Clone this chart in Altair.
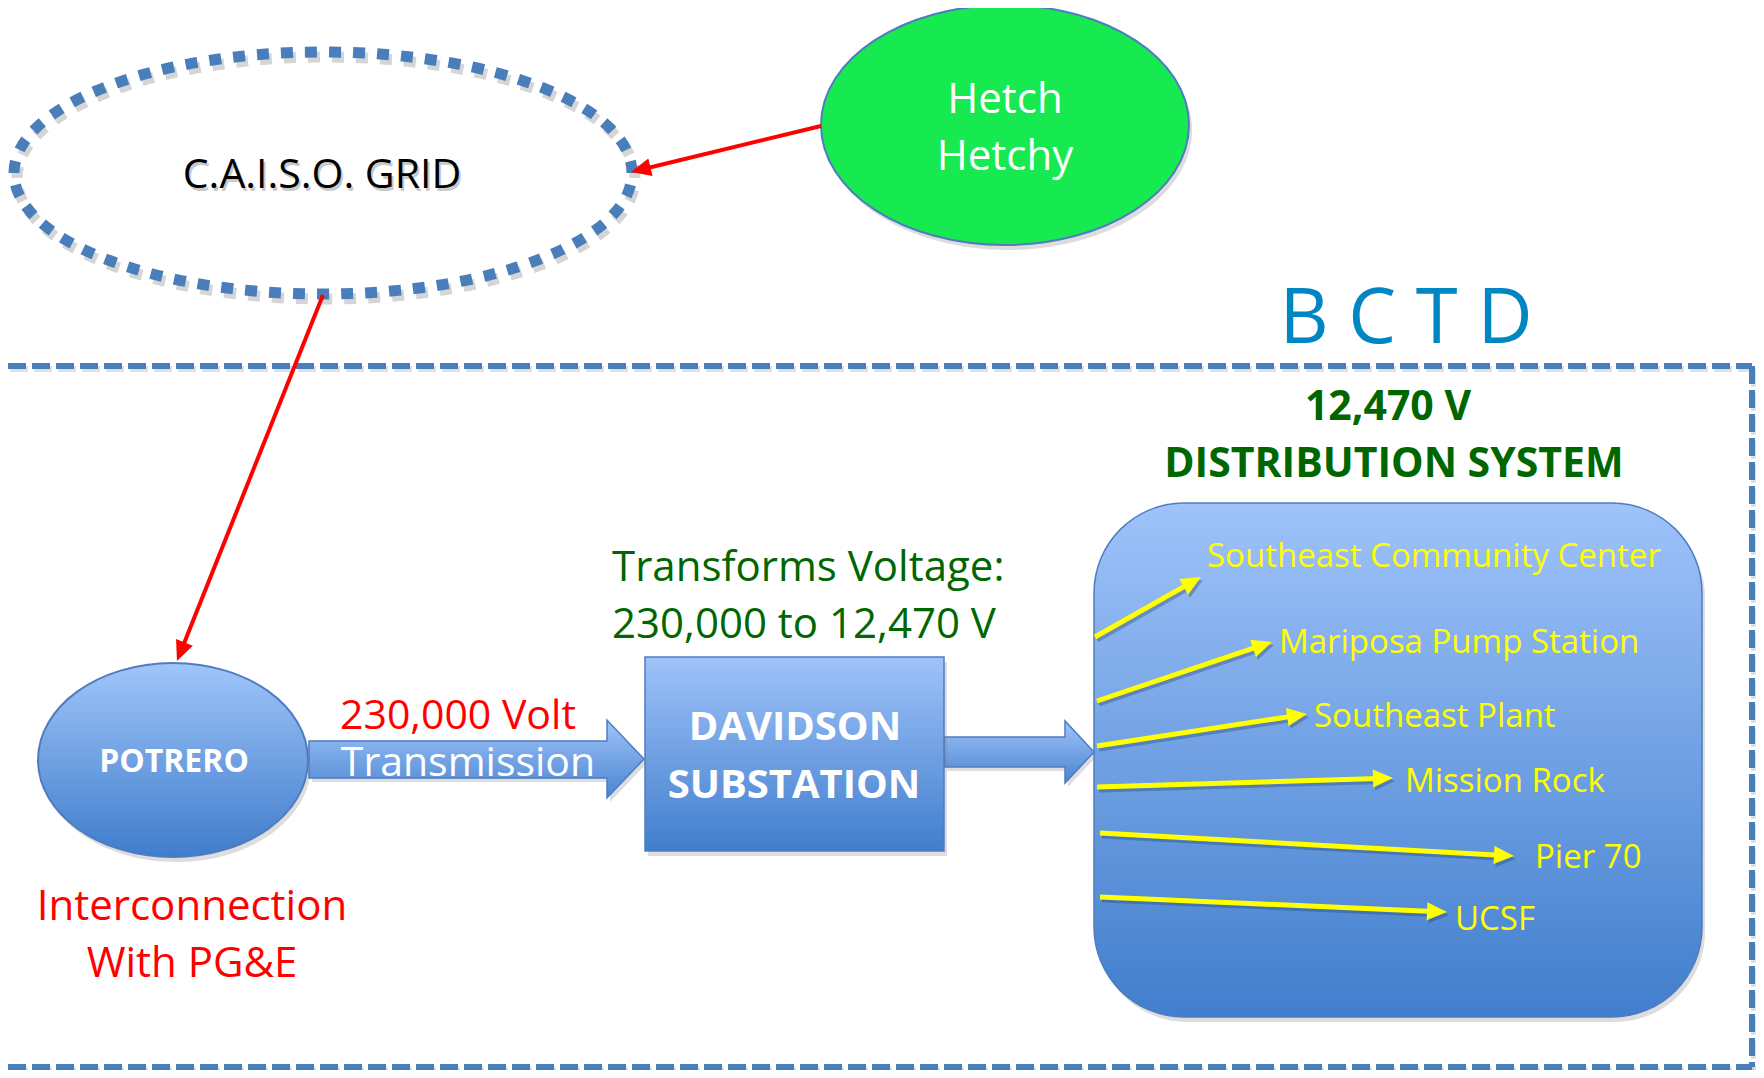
import math
import altair as alt
import pandas as pd

# ---------------- canvas (page pixels) ----------------
W, H = 1748, 1062
PX, PY = 8, 8

# ---------------- data ----------------
ellipse_names = ["C.A.I.S.O. GRID", "Hetch Hetchy", "POTRERO"]
ellipse_cx = [323, 1005, 173]
ellipse_cy = [173, 125, 760]
ellipse_rx = [309, 184, 135]
ellipse_ry = [121, 120, 97]

red_from_x = [821, 323]
red_from_y = [126, 295]
red_to_x = [631, 177]
red_to_y = [172, 661]

feeder_names = ["Southeast Community Center", "Mariposa Pump Station", "Southeast Plant",
                "Mission Rock", "Pier 70", "UCSF"]
feeder_x0 = [1095, 1097, 1097, 1097, 1100, 1100]
feeder_y0 = [637, 701, 746, 787, 833, 897]
feeder_x1 = [1201, 1272, 1307, 1393, 1514, 1447]
feeder_y1 = [577, 642, 714, 778, 856, 912]
feeder_label_x = [1207, 1279, 1314, 1405, 1535, 1455]
feeder_label_y = [567, 653, 727, 792, 868, 930]

arrow1_x = [309, 607, 607, 644, 607, 607, 309]
arrow1_y = [741, 741, 720, 759, 798, 778, 778]
arrow2_x = [944, 1065, 1065, 1094, 1065, 1065, 944]
arrow2_y = [737, 737, 721, 752, 783, 767, 767]

box_names = ["DAVIDSON SUBSTATION", "DISTRIBUTION SYSTEM"]
box_x = [645, 1094]
box_x2 = [944, 1702]
box_y = [657, 503]
box_y2 = [851, 1017]
box_radius = [0, 90]

frame_x = [8, 1752, 8]
frame_x2 = [1752, 1752, 1752]
frame_y = [366, 366, 1067]
frame_y2 = [366, 1067, 1067]

text_labels = ["C.A.I.S.O. GRID", "Hetch", "Hetchy", "B C T D", "230,000 Volt", "Transmission",
               "Interconnection", "With PG&E"]
text_x = [322, 1005, 1005, 1406, 458, 468, 192, 192]
text_y = [188, 113, 170, 343, 729, 776, 920, 977]
text_size = [41, 42, 42, 76, 41, 41, 42, 42]
text_color = ["#000000", "#FFFFFF", "#FFFFFF", "#0086C3", "#FF0000", "#FFFFFF", "#FF0000", "#FF0000"]

left_labels = ["Transforms Voltage:", "230,000 to 12,470 V"]
left_x = [612, 612]
left_y = [581, 638]

bold_labels = ["POTRERO", "DAVIDSON", "SUBSTATION", "12,470 V", "DISTRIBUTION SYSTEM"]
bold_x = [174, 795, 794, 1388, 1394]
bold_y = [772, 740, 798, 420, 477]
bold_size = [32, 40, 40, 41, 41]
bold_color = ["#FFFFFF", "#FFFFFF", "#FFFFFF", "#006600", "#006600"]

FONT = "Open Sans"
BLUE_LINE = "#4A7EBB"
SHAPE_STROKE = "#4F7CC0"

# ---------------- helpers ----------------
xs = alt.Scale(domain=[PX, PX + W], nice=False, zero=False)
ys = alt.Scale(domain=[PY, PY + H], nice=False, zero=False, reverse=True)


def X(f="x"):
    return alt.X(f"{f}:Q", scale=xs, axis=None)


def Y(f="y"):
    return alt.Y(f"{f}:Q", scale=ys, axis=None)


def vgrad(top, bottom):
    return alt.LinearGradient(
        gradient="linear",
        stops=[alt.GradientStop(offset=0, color=top), alt.GradientStop(offset=1, color=bottom)],
        x1=0, x2=0, y1=0, y2=1)


def ellipse_path(rx, ry):
    e = ry / rx
    c = 0.5523
    return (f"M -1 0 C -1 {-c*e:.4f} {-c:.4f} {-e:.4f} 0 {-e:.4f} "
            f"C {c:.4f} {-e:.4f} 1 {-c*e:.4f} 1 0 "
            f"C 1 {c*e:.4f} {c:.4f} {e:.4f} 0 {e:.4f} "
            f"C {-c:.4f} {e:.4f} -1 {c*e:.4f} -1 0 Z")


def poly_path(px, py):
    cx = (min(px) + max(px)) / 2
    cy = (min(py) + max(py)) / 2
    s = (max(px) - min(px)) / 2
    parts = []
    for i, (a, b) in enumerate(zip(px, py)):
        parts.append(f"{'M' if i == 0 else 'L'} {(a - cx) / s:.4f} {(b - cy) / s:.4f}")
    return " ".join(parts) + " Z", cx, cy, (2 * s) ** 2


def ellipse_layer(i, dx=0, dy=0, **kw):
    df = pd.DataFrame({"x": [ellipse_cx[i] + dx], "y": [ellipse_cy[i] + dy]})
    return alt.Chart(df).mark_point(
        shape=ellipse_path(ellipse_rx[i], ellipse_ry[i]),
        size=(2 * ellipse_rx[i]) ** 2, **kw).encode(x=X(), y=Y())


def poly_layer(px, py, dx=0, dy=0, **kw):
    path, cx, cy, size = poly_path(px, py)
    df = pd.DataFrame({"x": [cx + dx], "y": [cy + dy]})
    return alt.Chart(df).mark_point(shape=path, size=size, **kw).encode(x=X(), y=Y())


HEAD = "M 0 0 L 0.45 1 L -0.45 1 Z"


def arrow_layers(x0, y0, x1, y1, color, width, head_len, shadow=False):
    rows = []
    for a, b, c, d in zip(x0, y0, x1, y1):
        dx, dy = c - a, d - b
        L = math.hypot(dx, dy)
        ux, uy = dx / L, dy / L
        ang = math.degrees(math.atan2(ux, -uy)) % 360
        rows.append({"x": a, "y": b, "x2": c - ux * head_len * 0.7, "y2": d - uy * head_len * 0.7,
                     "tx": c, "ty": d, "ang": ang})
    df = pd.DataFrame(rows)
    out = []
    if shadow:
        sdf = df.copy()
        for k in ["x", "x2", "tx"]:
            sdf[k] = sdf[k] + 2
        for k in ["y", "y2", "ty"]:
            sdf[k] = sdf[k] + 3
        out.append(alt.Chart(sdf).mark_rule(color="#1F3F70", opacity=0.35, strokeWidth=width,
                                            strokeCap="butt").encode(
            x=X(), y=Y(), x2=alt.X2("x2:Q"), y2=alt.Y2("y2:Q")))
        out.append(alt.Chart(sdf).mark_point(shape=HEAD, size=(2 * head_len) ** 2, filled=True,
                                             fill="#1F3F70", strokeWidth=0, opacity=0.35).encode(
            x=X("tx"), y=Y("ty"), angle=alt.Angle("ang:Q", scale=None)))
    out.append(alt.Chart(df).mark_rule(color=color, strokeWidth=width, strokeCap="butt").encode(
        x=X(), y=Y(), x2=alt.X2("x2:Q"), y2=alt.Y2("y2:Q")))
    out.append(alt.Chart(df).mark_point(shape=HEAD, size=(2 * head_len) ** 2, filled=True,
                                        fill=color, strokeWidth=0, opacity=1).encode(
        x=X("tx"), y=Y("ty"), angle=alt.Angle("ang:Q", scale=None)))
    return out


layers = []

# ---------------- BCTD dashed frame ----------------
frame_df = pd.DataFrame({"x": frame_x, "x2": frame_x2, "y": frame_y, "y2": frame_y2})
frame_shadow = pd.DataFrame({"x": [v + 2 for v in frame_x], "x2": [v + 2 for v in frame_x2],
                             "y": [v + 3 for v in frame_y], "y2": [v + 3 for v in frame_y2]})
layers.append(alt.Chart(frame_shadow).mark_rule(color="#999999", opacity=0.3, strokeWidth=6,
                                                strokeDash=[18, 6]).encode(
    x=X(), y=Y(), x2=alt.X2("x2:Q"), y2=alt.Y2("y2:Q")))
layers.append(alt.Chart(frame_df).mark_rule(color=BLUE_LINE, strokeWidth=6, strokeDash=[18, 6]).encode(
    x=X(), y=Y(), x2=alt.X2("x2:Q"), y2=alt.Y2("y2:Q")))

# ---------------- CAISO ellipse (dashed) ----------------
layers.append(ellipse_layer(0, dx=3, dy=5, filled=False, stroke="#888888", strokeWidth=11,
                            strokeDash=[12, 12], opacity=0.35))
layers.append(ellipse_layer(0, filled=False, stroke=BLUE_LINE, strokeWidth=11,
                            strokeDash=[12, 12], opacity=1))

# ---------------- Hetch Hetchy ----------------
layers.append(ellipse_layer(1, dx=3, dy=5, filled=True, fill="#777777", strokeWidth=0, opacity=0.25))
layers.append(ellipse_layer(1, filled=True, fill="#16EA50", stroke=SHAPE_STROKE, strokeWidth=2, opacity=1))

# ---------------- Potrero ----------------
layers.append(ellipse_layer(2, dx=3, dy=5, filled=True, fill="#777777", strokeWidth=0, opacity=0.25))
layers.append(ellipse_layer(2, filled=True, fill=vgrad("#A0C5FA", "#3F7DCB"), stroke=SHAPE_STROKE,
                            strokeWidth=2, opacity=1))

# ---------------- block arrows ----------------
for px_, py_ in [(arrow1_x, arrow1_y), (arrow2_x, arrow2_y)]:
    layers.append(poly_layer(px_, py_, dx=3, dy=4, filled=True, fill="#777777", strokeWidth=0, opacity=0.25))
    layers.append(poly_layer(px_, py_, filled=True, fill=vgrad("#9FC4FA", "#4A84D0"),
                             stroke=SHAPE_STROKE, strokeWidth=1.5, opacity=1))

# ---------------- boxes ----------------
for i in range(2):
    sdf = pd.DataFrame({"x": [box_x[i] + 3], "x2": [box_x2[i] + 3], "y": [box_y[i] + 5], "y2": [box_y2[i] + 5]})
    bdf = pd.DataFrame({"x": [box_x[i]], "x2": [box_x2[i]], "y": [box_y[i]], "y2": [box_y2[i]]})
    layers.append(alt.Chart(sdf).mark_rect(fill="#777777", opacity=0.25, cornerRadius=box_radius[i]).encode(
        x=X(), y=Y(), x2=alt.X2("x2:Q"), y2=alt.Y2("y2:Q")))
    layers.append(alt.Chart(bdf).mark_rect(fill=vgrad("#9FC3FA", "#417ECC"), stroke=SHAPE_STROKE,
                                           strokeWidth=1.5, cornerRadius=box_radius[i]).encode(
        x=X(), y=Y(), x2=alt.X2("x2:Q"), y2=alt.Y2("y2:Q")))

# ---------------- red arrows ----------------
layers += arrow_layers(red_from_x, red_from_y, red_to_x, red_to_y, "#FF0000", 4, 20)

# ---------------- yellow feeder arrows ----------------
layers += arrow_layers(feeder_x0, feeder_y0, feeder_x1, feeder_y1, "#FFFF00", 5, 20, shadow=True)

# ---------------- texts ----------------
shadow_df = pd.DataFrame({"t": [text_labels[0]], "x": [text_x[0] + 2], "y": [text_y[0] + 3]})
layers.append(alt.Chart(shadow_df).mark_text(font=FONT, fontSize=text_size[0], align="center",
                                             baseline="alphabetic", color="#888888", opacity=0.45).encode(
    x=X(), y=Y(), text="t:N"))

tdf = pd.DataFrame({"t": text_labels, "x": text_x, "y": text_y, "fs": text_size, "c": text_color})
layers.append(alt.Chart(tdf).mark_text(font=FONT, align="center", baseline="alphabetic").encode(
    x=X(), y=Y(), text="t:N", size=alt.Size("fs:Q", scale=None), color=alt.Color("c:N", scale=None)))

ldf = pd.DataFrame({"t": left_labels, "x": left_x, "y": left_y})
layers.append(alt.Chart(ldf).mark_text(font=FONT, fontSize=42, align="left", baseline="alphabetic",
                                       color="#006600").encode(x=X(), y=Y(), text="t:N"))

bdf2 = pd.DataFrame({"t": bold_labels, "x": bold_x, "y": bold_y, "fs": bold_size, "c": bold_color})
layers.append(alt.Chart(bdf2).mark_text(font=FONT, fontWeight="bold", align="center", baseline="alphabetic").encode(
    x=X(), y=Y(), text="t:N", size=alt.Size("fs:Q", scale=None), color=alt.Color("c:N", scale=None)))

fdf = pd.DataFrame({"t": feeder_names, "x": feeder_label_x, "y": feeder_label_y})
layers.append(alt.Chart(fdf).mark_text(font=FONT, fontSize=33, align="left", baseline="alphabetic",
                                       color="#FFFF00").encode(x=X(), y=Y(), text="t:N"))

chart = alt.layer(*layers).properties(
    width=W, height=H, padding=0, autosize=alt.AutoSizeParams(type="none"),
    background="white"
).configure_view(stroke=None)

chart.save("out.html", embed_options={"renderer": "svg", "actions": False})
